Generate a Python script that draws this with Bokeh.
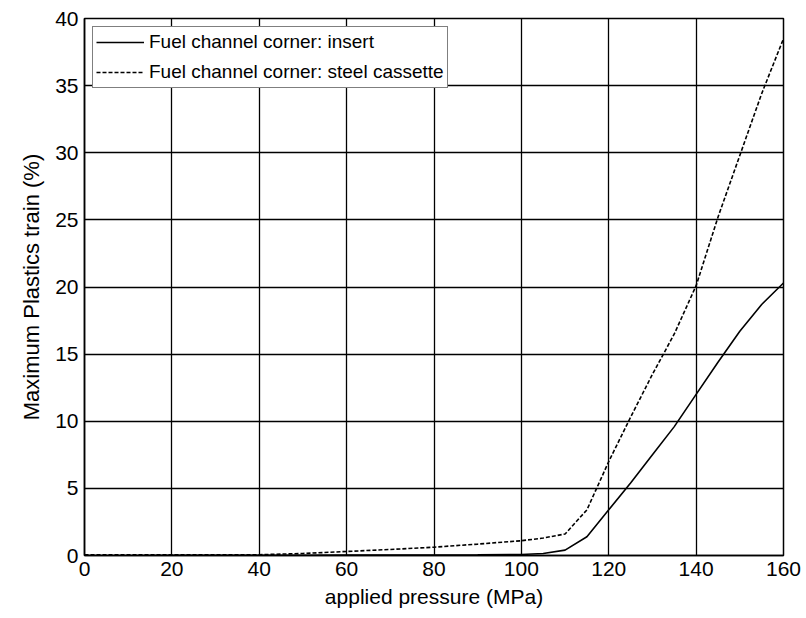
from bokeh.plotting import figure
from bokeh.models import Range1d, FixedTicker, Legend, LegendItem
from bokeh.embed import file_html
from bokeh.resources import INLINE

# Data
pressure = [0, 10, 20, 30, 40, 50, 60, 70, 80, 90, 100, 105, 110, 115, 120,
            125, 130, 135, 140, 145, 150, 155, 160]
insert = [0.0, 0.0, 0.02, 0.02, 0.02, 0.02, 0.03, 0.03, 0.04, 0.05, 0.08, 0.15,
          0.4, 1.4, 3.4, 5.4, 7.5, 9.6, 12.0, 14.4, 16.7, 18.7, 20.3]
cassette = [0.05, 0.05, 0.05, 0.05, 0.06, 0.15, 0.3, 0.45, 0.62, 0.85, 1.1, 1.3,
            1.6, 3.4, 7.0, 10.3, 13.5, 16.5, 20.1, 25.2, 29.8, 34.4, 38.5]

x_ticks = [0, 20, 40, 60, 80, 100, 120, 140, 160]
y_ticks = [0, 5, 10, 15, 20, 25, 30, 35, 40]

labels = ["Fuel channel corner: insert", "Fuel channel corner: steel cassette"]
x_title = "applied pressure (MPa)"
y_title = "Maximum Plastics train (%)"

FONT = "Liberation Sans"

p = figure(width=806, height=618, output_backend="svg", toolbar_location=None,
           x_range=Range1d(0, 160), y_range=Range1d(0, 40),
           min_border_left=84, min_border_right=23, min_border_top=18,
           min_border_bottom=63)
p.background_fill_color = "white"
p.border_fill_color = "white"
p.outline_line_color = "black"
p.outline_line_width = 1.5

r1 = p.line(pressure, insert, line_color="black", line_width=1.6)
r2 = p.line(pressure, cassette, line_color="black", line_width=1.6,
            line_dash="4 2")

for ax in (p.xaxis[0], p.yaxis[0]):
    ax.axis_line_color = "black"
    ax.axis_line_width = 1.5
    ax.major_tick_in = 0
    ax.major_tick_out = 0
    ax.minor_tick_in = 0
    ax.minor_tick_out = 0
    ax.major_label_text_font = FONT
    ax.major_label_text_font_size = "21px"
    ax.major_label_text_color = "black"
    ax.axis_label_text_font = FONT
    ax.axis_label_text_font_size = "21px"
    ax.axis_label_text_font_style = "normal"
    ax.axis_label_text_color = "black"

p.yaxis.axis_label_text_font_size = "22px"
p.xaxis.ticker = FixedTicker(ticks=x_ticks)
p.yaxis.ticker = FixedTicker(ticks=y_ticks)
p.xaxis.axis_label = x_title
p.yaxis.axis_label = y_title
p.xaxis.major_label_standoff = 6
p.yaxis.major_label_standoff = 6
p.xaxis.axis_label_standoff = 6
p.yaxis.axis_label_standoff = 8

for g in (p.xgrid[0], p.ygrid[0]):
    g.grid_line_color = "black"
    g.grid_line_width = 1.3
    g.grid_line_alpha = 1.0
p.xgrid.ticker = FixedTicker(ticks=x_ticks)
p.ygrid.ticker = FixedTicker(ticks=y_ticks)

legend = Legend(items=[LegendItem(label=labels[0], renderers=[r1]),
                       LegendItem(label=labels[1], renderers=[r2])],
                location="top_left")
legend.margin = 8
legend.padding = 3
legend.spacing = 6
legend.label_height = 24
legend.glyph_height = 24
legend.glyph_width = 48
legend.label_standoff = 5
legend.label_text_font = FONT
legend.label_text_font_size = "19px"
legend.label_text_color = "black"
legend.border_line_color = "black"
legend.border_line_width = 1.5
legend.background_fill_color = "white"
legend.background_fill_alpha = 1.0
p.add_layout(legend)

open("out.html", "w").write(file_html(p, INLINE))
